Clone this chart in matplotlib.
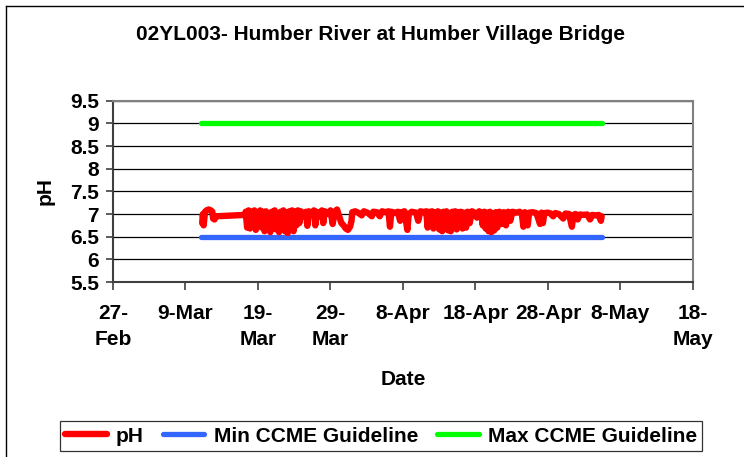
import matplotlib
matplotlib.use("Agg")
import matplotlib.pyplot as plt
from matplotlib.lines import Line2D
import datetime as dt

plt.rcParams['font.family'] = ['Liberation Sans', 'DejaVu Sans']
plt.rcParams['font.weight'] = 'bold'

title = "02YL003- Humber River at Humber Village Bridge"
base_date = dt.datetime(2007, 2, 27)

# pH readings: day offset from 27-Feb, value
ph_days = [12.3, 12.4, 12.5, 12.7, 12.9, 13.2, 13.5, 13.7, 13.8, 14.0, 14.2,
           18.2,
           18.3, 18.5, 18.7, 18.9, 19.1, 19.3, 19.5, 19.7, 19.9, 20.1, 20.3, 20.5,
           20.7, 20.9, 21.1, 21.3, 21.5, 21.7, 21.9, 22.1, 22.3, 22.5, 22.7, 22.9,
           23.1, 23.3, 23.5, 23.7, 23.9, 24.1, 24.3, 24.5, 24.7, 24.9, 25.1, 25.3,
           25.5, 25.7,
           25.9, 26.3, 26.6, 26.8, 27.0, 27.4, 27.7, 27.9, 28.1, 28.5, 28.8, 29.0,
           29.2, 29.7, 30.0, 30.3, 30.6, 30.9, 31.2, 31.5, 31.8, 32.1, 32.4, 32.7,
           32.9, 33.0,
           33.4, 33.8, 34.3, 34.6, 35.1, 35.7, 35.9, 36.4, 36.8, 37.1, 37.6, 38.0,
           38.2, 38.4, 38.9, 39.3, 39.6, 39.8, 40.2, 40.6, 40.8, 41.2,
           41.5, 41.8, 42.1, 42.4, 42.9, 43.2, 43.4, 43.6, 43.8, 44.0, 44.2, 44.4,
           44.6, 44.8, 45.0, 45.2, 45.4, 45.6, 45.8, 46.0, 46.2, 46.4, 46.6, 46.8,
           47.0, 47.2, 47.4, 47.6, 47.8, 48.0, 48.2, 48.4, 48.7, 48.9, 49.2, 49.5,
           49.9, 50.2, 50.5, 50.8, 51.0, 51.2, 51.4, 51.6, 51.8, 52.0, 52.2, 52.4,
           52.6, 52.8, 53.0, 53.3, 53.6, 53.9, 54.2, 54.5, 54.8, 55.1, 55.6, 56.1,
           56.4, 56.6, 56.8, 57.0, 57.2, 57.4, 57.9, 58.4, 58.9, 59.1, 59.3, 59.5,
           60.0, 60.4, 60.7, 61.0, 61.5, 62.1, 62.4, 62.9, 63.3, 63.5, 63.8, 64.1,
           64.4, 64.9, 65.4, 65.8, 66.1, 66.6, 67.0, 67.3, 67.4]
ph_values = [6.80, 7.00, 6.75, 7.05, 7.08, 7.10, 7.08, 7.05, 6.90, 6.88, 6.95,
             6.98,
             7.05, 6.70, 7.08, 6.68, 7.05, 6.72, 7.08, 6.65, 7.02, 6.75, 7.08, 6.70,
             7.05, 6.62, 7.06, 6.68, 7.02, 6.60, 7.05, 6.72, 7.08, 6.66, 7.00, 6.60,
             7.05, 6.75, 7.08, 6.62, 7.04, 6.58, 7.06, 6.70, 7.08, 6.62, 7.05, 6.75,
             7.08, 6.80,
             7.06, 6.95, 7.05, 6.74, 7.06, 7.00, 7.08, 6.75, 7.05, 6.95, 7.08, 6.80,
             7.06, 7.00, 7.08, 6.78, 7.05, 7.10, 6.95, 6.80, 6.75, 6.68, 6.65, 6.72,
             6.85, 7.04,
             7.06, 7.03, 6.97, 7.06, 7.03, 6.95, 7.05, 7.04, 6.95, 7.06, 7.04, 7.06,
             6.72, 7.05, 7.02, 7.05, 6.85, 7.04, 7.06, 6.65, 7.00, 7.05,
             7.04, 7.03, 6.85, 7.06, 7.04, 7.06, 6.70, 7.05, 6.75, 7.06, 6.68, 7.04,
             6.72, 7.06, 6.66, 7.03, 6.62, 7.05, 6.70, 7.06, 6.64, 7.02, 6.62, 7.05,
             6.70, 7.06, 6.66, 7.04, 6.72, 7.05, 6.68, 7.03, 6.70, 7.05, 6.80, 7.06,
             7.03, 6.92, 7.06, 7.02, 6.75, 7.05, 6.68, 7.03, 6.62, 7.05, 6.60, 7.02,
             6.64, 7.04, 6.70, 7.05, 6.78, 7.04, 6.75, 7.05, 6.85, 7.05, 7.03, 7.05,
             7.00, 6.72, 7.04, 7.00, 6.75, 7.03, 7.04, 7.02, 6.78, 7.03, 6.80, 7.02,
             7.03, 7.01, 6.95, 7.02, 7.00, 6.90, 7.01, 7.00, 6.72, 6.98, 7.00, 6.88,
             6.99, 6.98, 6.99, 6.88, 6.98, 6.97, 6.98, 6.85, 6.95]

guide_days = [12.2, 67.4]
min_guideline = [6.5, 6.5]
max_guideline = [9.0, 9.0]

xtick_days = [0, 10, 20, 30, 40, 50, 60, 70, 80]
xtick_labels = ["27-\nFeb", "9-Mar", "19-\nMar", "29-\nMar", "8-Apr", "18-Apr",
                "28-Apr", "8-May", "18-\nMay"]
yticks = [5.5, 6, 6.5, 7, 7.5, 8, 8.5, 9, 9.5]
ytick_labels = ["5.5", "6", "6.5", "7", "7.5", "8", "8.5", "9", "9.5"]

to_date = lambda d: base_date + dt.timedelta(days=d)
ph_dates = [to_date(d) for d in ph_days]
guide_dates = [to_date(d) for d in guide_days]
xtick_dates = [to_date(d) for d in xtick_days]

fig = plt.figure(figsize=(7.44, 4.57), dpi=100)
ax = fig.add_axes([113/744, 1-282/457, 580/744, 181.3/457])

ax.plot(ph_dates, ph_values, color='#FF0000', lw=4.6, solid_capstyle='round',
        solid_joinstyle='round', label='pH', zorder=4)
ax.plot(guide_dates, min_guideline, color='#3366FF', lw=3.8, solid_capstyle='round',
        label='Min CCME Guideline', zorder=3)
ax.plot(guide_dates, max_guideline, color='#00FF00', lw=3.8, solid_capstyle='round',
        label='Max CCME Guideline', zorder=3)

ax.set_ylim(5.5, 9.5)
ax.set_xlim(xtick_dates[0], xtick_dates[-1])
ax.set_yticks(yticks)
ax.set_yticklabels(ytick_labels)
ax.set_xticks(xtick_dates)
ax.set_xticklabels(xtick_labels, linespacing=1.45)
ax.yaxis.grid(True, color='black', lw=0.9)
ax.set_axisbelow(True)

fs = 15
for lab in ax.get_xticklabels() + ax.get_yticklabels():
    lab.set_fontsize(fs)
    lab.set_fontweight('bold')
ax.tick_params(axis='x', length=6, width=1.2, color='#404040', pad=10)
ax.tick_params(axis='y', length=5, width=1.2, color='#404040', pad=5)

for s in ['left', 'bottom']:
    ax.spines[s].set_color('#404040')
    ax.spines[s].set_linewidth(1.5)
for s in ['top', 'right']:
    ax.spines[s].set_color('#808080')
    ax.spines[s].set_linewidth(1.5)

ax.set_ylabel('pH', fontsize=fs, fontweight='bold', labelpad=11)
ax.set_xlabel('Date', fontsize=fs, fontweight='bold', labelpad=15)
fig.text(380/744, 1-34/457, title, ha='center', va='center', fontsize=fs,
         fontweight='bold')

leg = fig.legend(loc='center', bbox_to_anchor=(381/744, 1-436/457), ncol=3,
                 frameon=True, fancybox=False, fontsize=fs, handlelength=2.0,
                 handletextpad=0.45, columnspacing=0.9, borderpad=0.25,
                 edgecolor='black')
leg.get_frame().set_linewidth(0.9)
for t in leg.get_texts():
    t.set_fontweight('bold')

# outer chart frame
fig.add_artist(Line2D([6.5/744, 6.5/744], [0, 1-6/457], color='black', lw=1.0,
                      transform=fig.transFigure))
fig.add_artist(Line2D([6.5/744, 1], [1-6/457, 1-6/457], color='black', lw=1.0,
                      transform=fig.transFigure))

fig.savefig('out.png', dpi=100)
